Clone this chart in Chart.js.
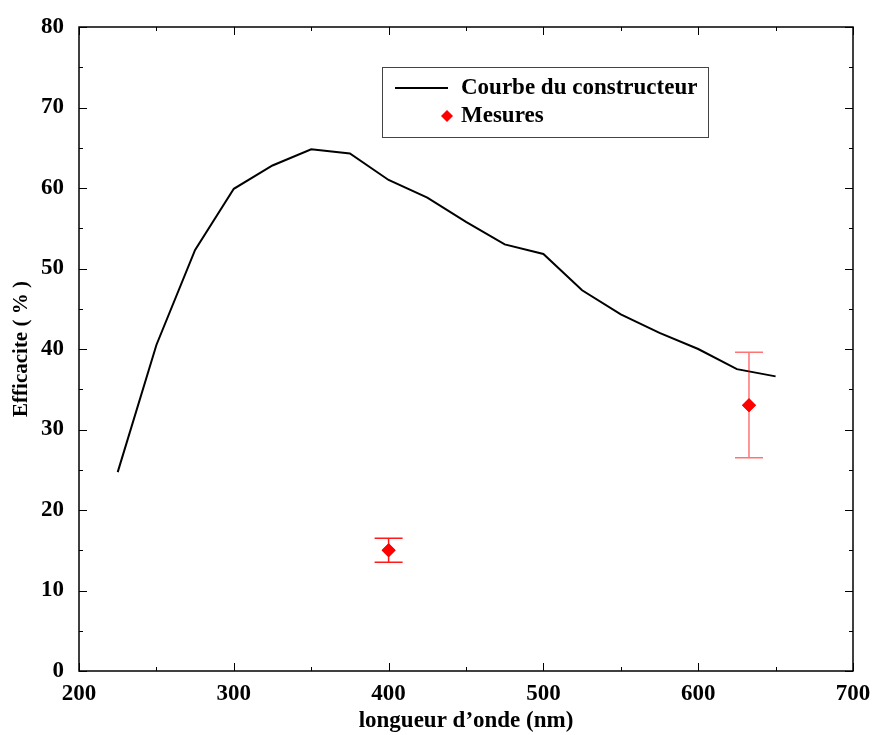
<!DOCTYPE html>
<html>
<head>
<meta charset="utf-8">
<script src="https://cdn.jsdelivr.net/npm/chart.js@4.4.0/dist/chart.umd.min.js"></script>
<style>
html,body{margin:0;padding:0;background:#fff;}
#wrap{width:874px;height:735px;}
</style>
</head>
<body>
<div id="wrap"><canvas id="c" width="874" height="735"></canvas></div>
<script>
// Data
const wavelengths = [225, 250, 275, 300, 325, 350, 375, 400, 425, 450, 475, 500, 525, 550, 575, 600, 625, 650];
const efficiency  = [24.7, 40.5, 52.3, 59.9, 62.8, 64.8, 64.3, 61.0, 58.8, 55.8, 53.0, 51.8, 47.3, 44.3, 42.0, 40.0, 37.5, 36.6];
const measWavelengths = [400, 632.8];
const measValues      = [15.0, 33.0];
const measLow         = [13.5, 26.5];
const measHigh        = [16.5, 39.6];
const seriesNames = ['Courbe du constructeur', 'Mesures'];
const xTitle = 'longueur d\u2019onde (nm)';
const yTitle = 'Efficacite ( % )';

const FONT = 'Liberation Serif, Times New Roman, serif';

const framePlugin = {
  id: 'frame',
  afterDatasetsDraw(chart) {
    const ctx = chart.ctx;
    const a = chart.chartArea;
    const xs = chart.scales.x, ys = chart.scales.y;
    ctx.save();
    // error bars
    const meta = chart.getDatasetMeta(1);
    ctx.lineWidth = 1.5;
    measWavelengths.forEach((w, i) => {
      const px = xs.getPixelForValue(w);
      const yl = ys.getPixelForValue(measLow[i]);
      const yh = ys.getPixelForValue(measHigh[i]);
      ctx.strokeStyle = i === 0 ? 'rgba(255,0,0,0.9)' : 'rgba(255,0,0,0.55)';
      ctx.beginPath();
      ctx.moveTo(px, yl); ctx.lineTo(px, yh);
      ctx.moveTo(px - 14, yl); ctx.lineTo(px + 14, yl);
      ctx.moveTo(px - 14, yh); ctx.lineTo(px + 14, yh);
      ctx.stroke();
    });
    // redraw points on top
    meta.data.forEach(el => el.draw(ctx));
    // frame
    ctx.strokeStyle = '#000';
    ctx.lineWidth = 1.5;
    ctx.strokeRect(a.left, a.top, a.right - a.left, a.bottom - a.top);
    // ticks inside, all four sides
    ctx.lineWidth = 1;
    xs.ticks.forEach(t => {
      const px = Math.round(xs.getPixelForValue(t.value)) + 0.5;
      const len = (t.value % 100 === 0) ? 8 : 4;
      ctx.beginPath();
      ctx.moveTo(px, a.bottom); ctx.lineTo(px, a.bottom - len);
      ctx.moveTo(px, a.top); ctx.lineTo(px, a.top + len);
      ctx.stroke();
    });
    ys.ticks.forEach(t => {
      const py = Math.round(ys.getPixelForValue(t.value)) + 0.5;
      const len = (t.value % 10 === 0) ? 8 : 4;
      ctx.beginPath();
      ctx.moveTo(a.left, py); ctx.lineTo(a.left + len, py);
      ctx.moveTo(a.right, py); ctx.lineTo(a.right - len, py);
      ctx.stroke();
    });
    // legend box
    const lx = 382, ly = 67, lw = 326, lh = 70;
    ctx.fillStyle = '#fff';
    ctx.fillRect(lx, ly, lw, lh);
    ctx.strokeStyle = '#444';
    ctx.lineWidth = 1;
    ctx.strokeRect(lx + 0.5, ly + 0.5, lw, lh);
    ctx.strokeStyle = '#000';
    ctx.lineWidth = 2;
    ctx.beginPath();
    ctx.moveTo(395, 88); ctx.lineTo(448, 88);
    ctx.stroke();
    ctx.fillStyle = 'red';
    ctx.beginPath();
    ctx.moveTo(447, 110); ctx.lineTo(453, 116); ctx.lineTo(447, 122); ctx.lineTo(441, 116);
    ctx.closePath(); ctx.fill();
    ctx.fillStyle = '#000';
    ctx.font = 'bold 23px ' + FONT;
    ctx.textBaseline = 'middle';
    ctx.textAlign = 'left';
    ctx.fillText(seriesNames[0], 461, 88);
    ctx.fillText(seriesNames[1], 461, 116);
    ctx.restore();
  }
};

new Chart(document.getElementById('c'), {
  type: 'scatter',
  data: {
    datasets: [
      {
        label: seriesNames[0],
        data: wavelengths.map((w, i) => ({x: w, y: efficiency[i]})),
        showLine: true,
        borderColor: '#000',
        borderWidth: 2,
        pointRadius: 0,
        tension: 0,
        fill: false
      },
      {
        label: seriesNames[1],
        data: measWavelengths.map((w, i) => ({x: w, y: measValues[i]})),
        showLine: false,
        pointStyle: 'rectRot',
        pointRadius: 7,
        backgroundColor: 'red',
        borderColor: 'red',
        borderWidth: 0
      }
    ]
  },
  options: {
    responsive: false,
    animation: false,
    devicePixelRatio: 1,
    layout: {padding: {left: 0, top: 27, right: 21, bottom: 0}},
    plugins: {legend: {display: false}, tooltip: {enabled: false}},
    scales: {
      x: {
        type: 'linear', min: 200, max: 700,
        grid: {display: false},
        border: {display: false},
        afterFit: s => { s.height = 64; s.paddingLeft = 0; s.paddingRight = 0; },
        ticks: {
          stepSize: 50, autoSkip: false, maxRotation: 0, padding: 1,
          color: '#000',
          font: {family: FONT, size: 23, weight: 'bold'},
          callback: v => (v % 100 === 0 ? String(v) : '')
        },
        title: {display: true, text: xTitle, color: '#000', padding: {top: 0, bottom: 0},
          font: {family: FONT, size: 23, weight: 'bold'}}
      },
      y: {
        type: 'linear', min: 0, max: 80,
        grid: {display: false},
        border: {display: false},
        afterFit: s => { s.width = 79; s.paddingTop = 0; s.paddingBottom = 0; },
        ticks: {
          stepSize: 5, autoSkip: false, padding: 7,
          color: '#000',
          font: {family: FONT, size: 23, weight: 'bold'},
          callback: v => (v % 10 === 0 ? String(v) : '')
        },
        title: {display: true, text: yTitle, color: '#000', padding: {top: 9, bottom: 0},
          font: {family: FONT, size: 21, weight: 'bold'}}
      }
    }
  },
  plugins: [framePlugin]
});
</script>
</body>
</html>
